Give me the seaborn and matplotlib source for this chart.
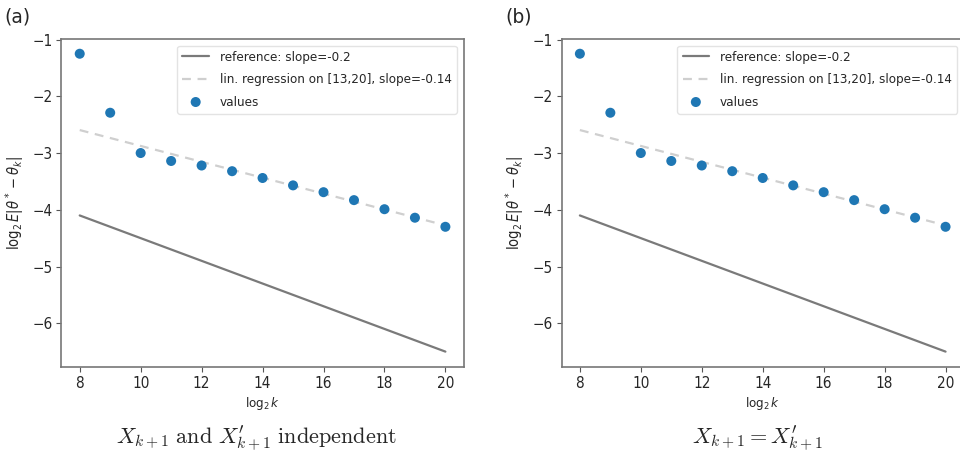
import numpy as np
import pandas as pd
import matplotlib
matplotlib.use("Agg")
import matplotlib.pyplot as plt
import seaborn as sns

# log2 k grid and measured log2 E|theta* - theta_k|
log2_k = [8, 9, 10, 11, 12, 13, 14, 15, 16, 17, 18, 19, 20]
err_independent = [-1.25, -2.29, -3.00, -3.14, -3.22, -3.32, -3.44, -3.57, -3.69, -3.83, -3.99, -4.14, -4.30]
err_same = [-1.25, -2.29, -3.00, -3.14, -3.22, -3.32, -3.44, -3.57, -3.69, -3.83, -3.99, -4.14, -4.30]

ref_slope = -0.2
ref_intercept = -2.5
fit_range = (13, 20)

panel_tags = ["(a)", "(b)"]
captions = [r"$X_{k+1}\ \mathrm{and}\ X^{\prime}_{k+1}\ \mathrm{independent}$",
            r"$X_{k+1} = X^{\prime}_{k+1}$"]

sns.set_style("ticks")
plt.rcParams["font.family"] = ["DejaVu Sans"]
plt.rcParams["font.stretch"] = "condensed"
plt.rcParams["mathtext.fontset"] = "dejavusans"

fig = plt.figure(figsize=(9.6, 4.57), dpi=100)
axes_rects = [[0.064, 0.198, 0.419, 0.717], [0.585, 0.198, 0.419, 0.717]]

for rect, tag, cap, vals in zip(axes_rects, panel_tags, captions,
                                [err_independent, err_same]):
    ax = fig.add_axes(rect)
    df = pd.DataFrame({"x": log2_k, "y": vals})
    sel = df[(df.x >= fit_range[0]) & (df.x <= fit_range[1])]
    slope, intercept = np.polyfit(sel.x, sel.y, 1)
    df["ref"] = ref_slope * df.x + ref_intercept
    df["fit"] = slope * df.x + intercept

    sns.lineplot(data=df, x="x", y="ref", ax=ax, color="#7a7a7a", lw=1.6,
                 label=f"reference: slope={ref_slope}")
    sns.lineplot(data=df, x="x", y="fit", ax=ax, color="#cfcfcf", lw=1.6,
                 linestyle=(0, (4, 3)),
                 label=f"lin. regression on [{fit_range[0]},{fit_range[1]}], slope={slope:.2f}")
    sns.scatterplot(data=df, x="x", y="y", ax=ax, color="#1f77b4", s=52,
                    edgecolor="none", label="values", zorder=3)

    ax.set_xticks([8, 10, 12, 14, 16, 18, 20])
    ax.set_yticks([-1, -2, -3, -4, -5, -6])
    ax.set_yticklabels(["\u22121", "\u22122", "\u22123", "\u22124", "\u22125", "\u22126"])
    ax.tick_params(labelsize=11, length=3.5, width=0.8, color="#555555", pad=3)
    ax.set_xlabel(r"$\log_2 k$", fontsize=9.5, labelpad=3)
    ax.set_ylabel(r"$\log_2 E|\theta^* - \theta_k|$", fontsize=10.5)
    ax.yaxis.set_label_coords(-0.088, 0.5)
    for sp in ax.spines.values():
        sp.set_visible(True)
        sp.set_color("#777777")
        sp.set_linewidth(1.2)
    ax.legend(loc="upper right", fontsize=9.6, frameon=True, framealpha=0.8,
              edgecolor="#dddddd", handlelength=2.0, labelspacing=0.7,
              borderaxespad=0.5)

    x0 = rect[0]
    fig.text(x0 - 0.059, 0.962, tag, fontsize=13.5, ha="left", va="center",
             fontstretch="normal")
    fig.text(x0 + rect[2] / 2 - 0.006, 0.040, cap, fontsize=16, ha="center",
             va="center", math_fontfamily="cm")

fig.savefig("out.png", dpi=100)
